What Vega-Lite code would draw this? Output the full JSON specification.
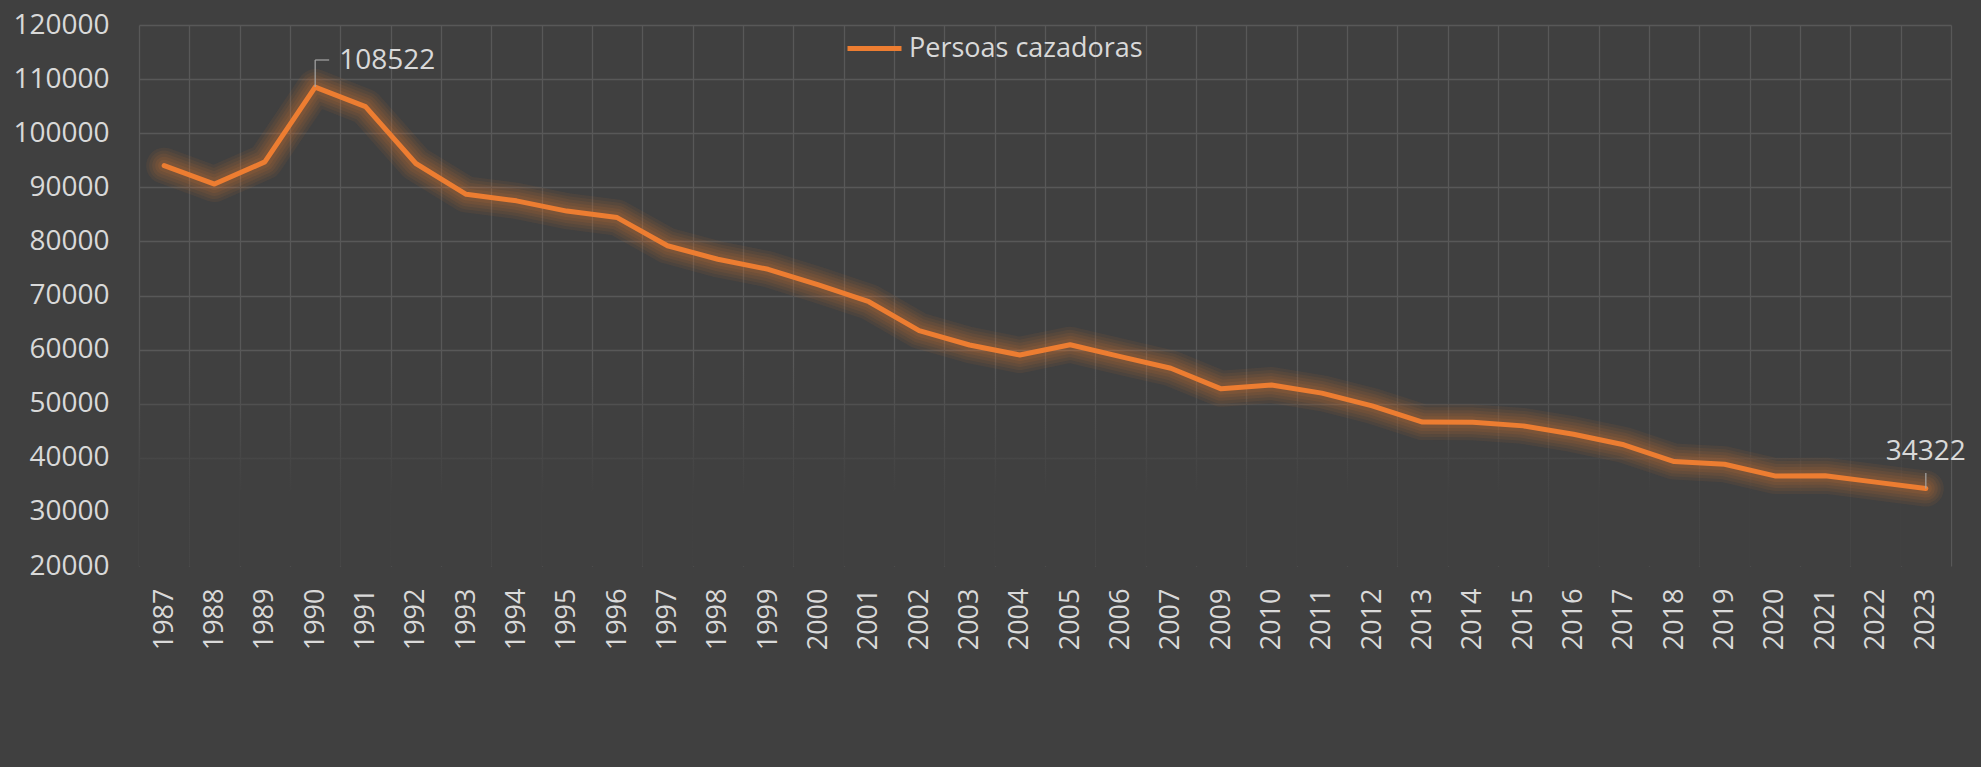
{
  "$schema": "https://vega.github.io/schema/vega-lite/v6.json",
  "width": 1812,
  "height": 541,
  "autosize": {"type": "none"},
  "padding": {"left": 139, "top": 25, "right": 30, "bottom": 201},
  "background": "#404040",
  "config": {
    "view": {"stroke": null},
    "font": "Open Sans",
    "axis": {"zindex": 0},
    "legend": {
      "orient": "none",
      "legendX": 706,
      "legendY": -6,
      "padding": 0,
      "symbolType": "stroke",
      "symbolSize": 2916,
      "symbolStrokeWidth": 5,
      "labelFontSize": 27,
      "labelColor": "#d9d9d9",
      "labelOffset": 5,
      "labelLimit": 500,
      "title": null
    }
  },
  "data": {
    "values": [
      {"year": "1987", "value": 94000},
      {"year": "1988", "value": 90600},
      {"year": "1989", "value": 94700},
      {"year": "1990", "value": 108522},
      {"year": "1991", "value": 104900},
      {"year": "1992", "value": 94400},
      {"year": "1993", "value": 88700},
      {"year": "1994", "value": 87500},
      {"year": "1995", "value": 85600},
      {"year": "1996", "value": 84400},
      {"year": "1997", "value": 79200},
      {"year": "1998", "value": 76700},
      {"year": "1999", "value": 74850},
      {"year": "2000", "value": 71950},
      {"year": "2001", "value": 68850},
      {"year": "2002", "value": 63500},
      {"year": "2003", "value": 60850},
      {"year": "2004", "value": 59000},
      {"year": "2005", "value": 60900},
      {"year": "2006", "value": 58700},
      {"year": "2007", "value": 56550},
      {"year": "2009", "value": 52750},
      {"year": "2010", "value": 53450},
      {"year": "2011", "value": 51950},
      {"year": "2012", "value": 49600},
      {"year": "2013", "value": 46600},
      {"year": "2014", "value": 46550},
      {"year": "2015", "value": 45900},
      {"year": "2016", "value": 44350},
      {"year": "2017", "value": 42400},
      {"year": "2018", "value": 39300},
      {"year": "2019", "value": 38800},
      {"year": "2020", "value": 36650},
      {"year": "2021", "value": 36700},
      {"year": "2022", "value": 35500},
      {"year": "2023", "value": 34322}
    ]
  },
  "encoding": {
    "x": {
      "field": "year",
      "type": "ordinal",
      "sort": null,
      "bandPosition": 0.5,
      "scale": {"type": "band", "paddingInner": 0, "paddingOuter": 0},
      "axis": {
        "title": null,
        "zindex": 0,
        "labelAngle": -90,
        "labelAlign": "right",
        "labelBaseline": "middle",
        "labelFontSize": 27,
        "labelColor": "#d9d9d9",
        "labelPadding": 22,
        "ticks": false,
        "domain": false,
        "tickBand": "extent",
        "grid": true,
        "gridColor": "#585858",
        "gridWidth": 1.3
      }
    },
    "y": {
      "field": "value",
      "type": "quantitative",
      "scale": {"domain": [20000, 120000], "nice": false, "zero": false},
      "axis": {
        "title": null,
        "zindex": 0,
        "values": [20000, 30000, 40000, 50000, 60000, 70000, 80000, 90000, 100000, 110000, 120000],
        "format": "d",
        "labelFontSize": 28,
        "labelColor": "#d9d9d9",
        "labelPadding": 30,
        "ticks": false,
        "domain": false,
        "gridColor": "#585858",
        "gridWidth": 1.3,
        "gridOpacity": {"condition": {"test": "datum.value <= 30000", "value": 0}, "value": 1}
      }
    }
  },
  "layer": [
    {
      "mark": {
        "type": "rect",
        "fill": {
          "gradient": "linear",
          "x1": 0, "y1": 0, "x2": 0, "y2": 1,
          "stops": [
            {"offset": 0, "color": "#40404000"},
            {"offset": 0.65, "color": "#404040"},
            {"offset": 1, "color": "#404040"}
          ]
        }
      },
      "encoding": {
        "x": {"field": "year", "type": "ordinal", "sort": null},
        "y": {"datum": 58000, "type": "quantitative"},
        "y2": {"datum": 20000}
      }
    },
    {"mark": {"type": "line", "color": "#ED7D31", "strokeWidth": 36, "opacity": 0.07, "strokeJoin": "round", "strokeCap": "round"}},
    {"mark": {"type": "line", "color": "#ED7D31", "strokeWidth": 30, "opacity": 0.07, "strokeJoin": "round", "strokeCap": "round"}},
    {"mark": {"type": "line", "color": "#ED7D31", "strokeWidth": 24, "opacity": 0.08, "strokeJoin": "round", "strokeCap": "round"}},
    {"mark": {"type": "line", "color": "#ED7D31", "strokeWidth": 18, "opacity": 0.09, "strokeJoin": "round", "strokeCap": "round"}},
    {"mark": {"type": "line", "color": "#ED7D31", "strokeWidth": 12, "opacity": 0.1, "strokeJoin": "round", "strokeCap": "round"}},
    {
      "mark": {"type": "line", "strokeWidth": 5, "strokeJoin": "round", "strokeCap": "round"},
      "encoding": {
        "color": {
          "datum": "Persoas cazadoras",
          "type": "nominal",
          "scale": {"range": ["#ED7D31"]}
        }
      }
    },
    {
      "transform": [{"filter": "datum.year == '1990'"}],
      "mark": {"type": "rule", "color": "#a6a6a6", "strokeWidth": 1.2},
      "encoding": {"y2": {"datum": 113530}}
    },
    {
      "transform": [{"filter": "datum.year == '1990'"}],
      "mark": {"type": "rule", "color": "#a6a6a6", "strokeWidth": 1.2, "x2Offset": 14},
      "encoding": {
        "y": {"datum": 113530, "type": "quantitative"},
        "x2": {"field": "year", "bandPosition": 0.5}
      }
    },
    {
      "transform": [{"filter": "datum.year == '2023'"}],
      "mark": {"type": "rule", "color": "#a6a6a6", "strokeWidth": 1.2},
      "encoding": {"y2": {"datum": 37200}}
    },
    {
      "transform": [{"filter": "datum.year == '1990'"}],
      "mark": {"type": "text", "align": "left", "baseline": "middle", "dx": 24, "dy": -26, "fontSize": 28, "color": "#d9d9d9"},
      "encoding": {"text": {"field": "value", "type": "quantitative", "format": "d"}}
    },
    {
      "transform": [{"filter": "datum.year == '2023'"}],
      "mark": {"type": "text", "align": "center", "baseline": "middle", "dy": -37, "fontSize": 28, "color": "#d9d9d9"},
      "encoding": {"text": {"field": "value", "type": "quantitative", "format": "d"}}
    }
  ]
}
